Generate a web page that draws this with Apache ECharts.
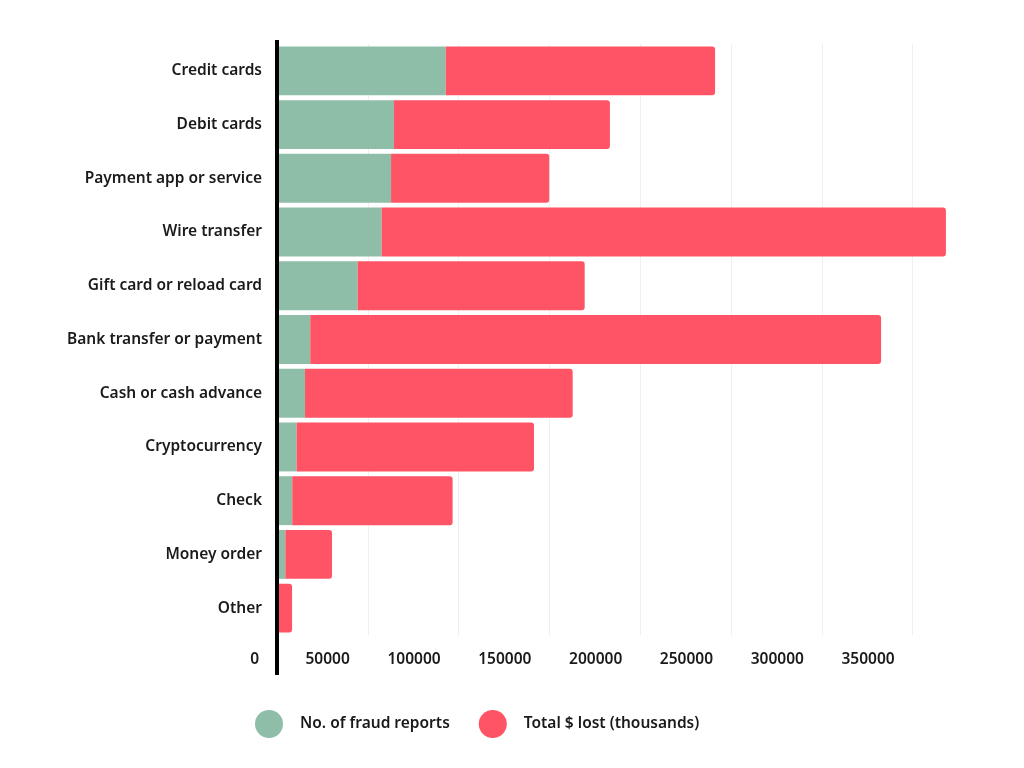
<!DOCTYPE html>
<html>
<head>
<meta charset="utf-8">
<script src="https://cdn.jsdelivr.net/npm/echarts@6/dist/echarts.min.js"></script>
<style>
html,body{margin:0;padding:0;background:#ffffff;}
#chart{width:1024px;height:768px;}
</style>
</head>
<body>
<div id="chart"></div>
<script>
const categories = ['Credit cards','Debit cards','Payment app or service','Wire transfer','Gift card or reload card','Bank transfer or payment','Cash or cash advance','Cryptocurrency','Check','Money order','Other'];
const fraudReports = [92900, 64400, 62800, 57600, 44400, 18300, 15400, 10800, 8400, 4600, 1000];
const totalLost = [148300, 118900, 87100, 310700, 125000, 314300, 147400, 130700, 88300, 25700, 7300];
const seriesNames = ['No. of fraud reports', 'Total $ lost (thousands)'];

const FONT = 'Noto Sans';
const FS = 15.5;
const chart = echarts.init(document.getElementById('chart'), null, {renderer: 'canvas'});
const gridTop = 44, gridBottom = 133;
const option = {
  backgroundColor: '#ffffff',
  animation: false,
  grid: {left: 277, right: 75, top: gridTop, bottom: gridBottom, containLabel: false},
  legend: {
    left: 250, top: 705,
    icon: 'circle', itemWidth: 28, itemHeight: 28, itemGap: 29,
    textStyle: {fontFamily: FONT, fontWeight: 600, fontSize: FS, color: '#1a1a1a', padding: [0, 0, 0, 12]},
    data: seriesNames
  },
  xAxis: {
    type: 'value', min: 0, max: 370000, interval: 50000,
    axisLine: {show: false}, axisTick: {show: false},
    axisLabel: {
      fontFamily: FONT, fontWeight: 600, fontSize: FS, color: '#1a1a1a',
      align: 'right', padding: [0, 18, 0, 0], margin: 17,
      formatter: function (v) { return v >= 370000 ? '' : String(v); }
    },
    splitLine: {show: true, lineStyle: {width: 1, color: ['rgba(0,0,0,0)', '#efeff2', '#efeff2', '#efeff2', '#efeff2', '#efeff2', '#efeff2', '#efeff2', 'rgba(0,0,0,0)']}}
  },
  yAxis: {
    type: 'category', inverse: true, data: categories,
    axisLine: {show: true, lineStyle: {color: '#000000', width: 4}},
    axisTick: {show: false},
    axisLabel: {fontFamily: FONT, fontWeight: 600, fontSize: FS, color: '#1a1a1a', margin: 15, padding: [2, 0, 0, 0]}
  },
  series: [
    {
      name: seriesNames[0], type: 'bar', stack: 'total', data: fraudReports,
      barCategoryGap: '9%',
      itemStyle: {color: '#8fbea8'}
    },
    {
      name: seriesNames[1], type: 'bar', stack: 'total', data: totalLost,
      barCategoryGap: '9%',
      itemStyle: {color: '#ff5465', borderRadius: [0, 3, 3, 0]}
    }
  ]
};
chart.setOption(option);
const x0 = chart.convertToPixel({xAxisIndex: 0}, 0);
chart.setOption({
  graphic: [{
    type: 'line', z: 100,
    shape: {x1: x0, y1: 40, x2: x0, y2: 675},
    style: {stroke: '#000000', lineWidth: 4}
  }]
});
</script>
</body>
</html>
